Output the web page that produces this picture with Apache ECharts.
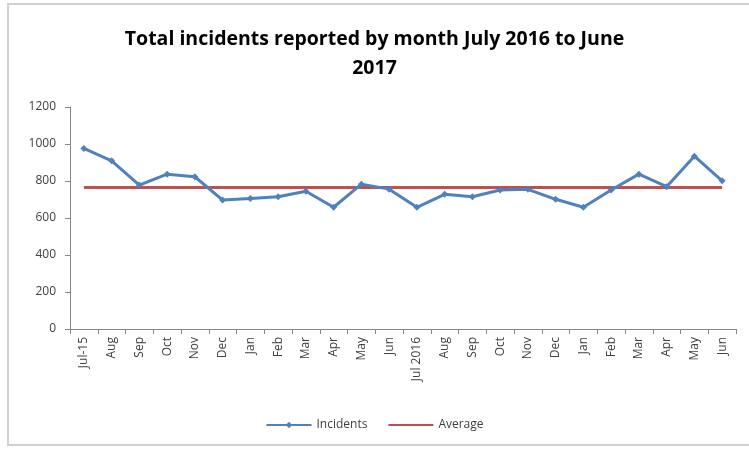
<!DOCTYPE html>
<html>
<head>
<meta charset="utf-8">
<script src="https://cdn.jsdelivr.net/npm/echarts@6/dist/echarts.min.js"></script>
<style>
  html, body { margin: 0; padding: 0; background: #fff; }
  #chart { width: 749px; height: 452px; }
</style>
</head>
<body>
<div id="chart"></div>
<script>
// Monthly categories, July 2015 to June 2017
const months = ['Jul-15', 'Aug', 'Sep', 'Oct', 'Nov', 'Dec', 'Jan', 'Feb', 'Mar', 'Apr', 'May', 'Jun',
                'Jul 2016', 'Aug', 'Sep', 'Oct', 'Nov', 'Dec', 'Jan', 'Feb', 'Mar', 'Apr', 'May', 'Jun'];

// Total incidents per month
const incidents = [976, 909, 778, 837, 823, 697, 706, 715, 745, 658, 783, 756,
                   658, 728, 715, 751, 755, 701, 658, 751, 837, 769, 934, 801];

// Average level over the whole period
const average = [765, 765, 765, 765, 765, 765, 765, 765, 765, 765, 765, 765,
                 765, 765, 765, 765, 765, 765, 765, 765, 765, 765, 765, 765];

// Value axis ticks
const yTicks = { min: 0, max: 1200, interval: 200 };

const font = '"Open Sans", "Liberation Sans", sans-serif';
const chart = echarts.init(document.getElementById('chart'));

chart.setOption({
  animation: false,
  backgroundColor: '#ffffff',
  title: {
    text: 'Total incidents reported by month July 2016 to June\n2017',
    left: 'center',
    top: 20,
    textStyle: {
      fontFamily: font,
      fontSize: 19.5,
      fontWeight: 'bold',
      color: '#000000',
      lineHeight: 29
    }
  },
  graphic: [{
    type: 'rect',
    shape: { x: 8, y: 4, width: 760, height: 441 },
    style: { fill: 'none', stroke: '#d0d0d0', lineWidth: 2 },
    silent: true
  }],
  legend: {
    bottom: 16,
    left: 'center',
    itemWidth: 45,
    itemHeight: 8,
    itemGap: 20,
    textStyle: { fontFamily: font, fontSize: 12, color: '#404040' },
    data: ['Incidents', { name: 'Average', itemStyle: { opacity: 0 } }]
  },
  grid: { left: 70, right: 13, top: 107, bottom: 123 },
  xAxis: {
    type: 'category',
    data: months,
    boundaryGap: true,
    axisLine: { lineStyle: { color: '#868686' } },
    axisTick: { show: true, interval: 0, lineStyle: { color: '#868686' }, length: 5 },
    axisLabel: {
      interval: 0,
      rotate: 90,
      fontFamily: font,
      fontSize: 12,
      color: '#404040',
      margin: 8
    }
  },
  yAxis: {
    type: 'value',
    min: yTicks.min,
    max: yTicks.max,
    interval: yTicks.interval,
    axisLine: { show: true, lineStyle: { color: '#868686' } },
    axisTick: { show: true, inside: false, length: 5, lineStyle: { color: '#868686' } },
    splitLine: { show: false },
    axisLabel: {
      fontFamily: font,
      fontSize: 12,
      color: '#404040',
      margin: 14,
      formatter: (v) => String(v)
    }
  },
  series: [
    {
      name: 'Incidents',
      type: 'line',
      data: incidents,
      symbol: 'diamond',
      symbolSize: 7,
      showSymbol: true,
      color: '#4F81BD',
      lineStyle: { width: 3, color: '#4F81BD' },
      itemStyle: { color: '#4F81BD' },
      z: 3
    },
    {
      name: 'Average',
      type: 'line',
      data: average,
      symbol: 'none',
      color: '#C0504D',
      lineStyle: { width: 3, color: '#C0504D' },
      z: 2
    }
  ]
});
</script>
</body>
</html>
